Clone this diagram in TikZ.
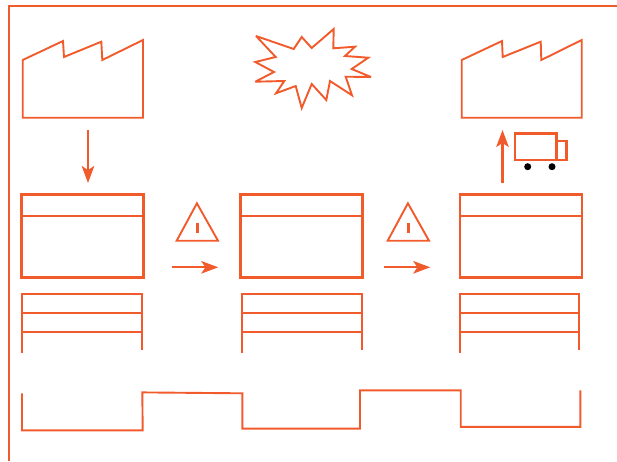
\documentclass[tikz,border=0pt]{standalone}
\usepackage{xcolor}
\usepackage{tikz}
\usetikzlibrary{arrows.meta,positioning}

\definecolor{vsmorange}{HTML}{F15A2B}

\begin{document}
\begin{tikzpicture}[
    x=1pt, y=-1pt,
    outline/.style={draw=vsmorange, line width=1.9pt, line join=miter, miter limit=4},
    process/.style={rectangle, draw=vsmorange, line width=2.7pt, outer sep=0pt, inner sep=0pt, minimum width=122pt, minimum height=83.5pt},
    divider/.style={draw=vsmorange, line width=1.9pt},
    truckbox/.style={draw=vsmorange, line width=2.5pt},
    wheel/.style={circle, fill=black, inner sep=0pt, minimum size=7pt},
    arrow/.style={-{Stealth[length=17pt, width=12.5pt, inset=4pt]}, draw=vsmorange, line width=2.2pt}
]
    \useasboundingbox (0,0) rectangle (617,461);

    % outer frame
    \draw [outline] (9,461) -- (9,6) -- (617,6);

    % supplier and customer
    \draw [outline] (22.7,117.7) -- (22.7,60) -- (63,41) -- (64,57) -- (101.3,41.7) -- (102.3,60) -- (143,40) -- (143,117.7) -- cycle;
    \draw [outline] (461.7,117.7) -- (461.7,60) -- (502,41) -- (502.7,57) -- (540.7,41.7) -- (541.3,60) -- (581.7,40) -- (581.7,117.7) -- cycle;

    % kaizen burst
    \draw [outline] (256,36) -- (293.7,49) -- (301.7,37) -- (311.7,48) -- (333.7,29) -- (333.3,48.3) -- (355,46.7) -- (345,56) -- (368.3,57.7) -- (351.7,69) -- (371,77) -- (345.7,76.7) -- (352,95.3) -- (330,81) -- (326.3,100) -- (311.7,84) -- (301.7,108) -- (295.7,86) -- (276,93.3) -- (284.3,81) -- (255.3,81.7) -- (274,72) -- (255.3,62) -- (275.7,57) -- cycle;

    % process boxes
    \node [process] (n1) at (82.7,236) {};
    \node [process, right=96.6pt of n1] (n2) {};
    \node [process, right=97.7pt of n2] (n3) {};
    \foreach \n in {n1,n2,n3} {
        \draw [divider] ([yshift=-21.3pt]\n.north west) -- ([yshift=-21.3pt]\n.north east);
    }

    % data tables
    \foreach \xa/\xb in {22/142, 241.7/361.7, 459.7/579.3} {
        \draw [outline] (\xa,352.7) -- (\xa,293.7) -- (\xb,293.7) -- (\xb,350.3);
        \draw [divider] (\xa,313.3) -- (\xb,313.3);
        \draw [divider] (\xa,331.7) -- (\xb,331.7);
    }

    % inventory triangles
    \foreach \xa/\xb/\xc in {176.7/196.9/218, 387.7/407.9/429} {
        \draw [outline] (\xa,240.7) -- (\xb,203.3) -- (\xc,240.7) -- cycle;
        \draw [outline, line width=2.4pt] (\xb+0.6,223.3) -- (\xb+0.6,232.7);
    }

    % truck
    \draw [truckbox] (515,133.7) rectangle (556.7,160);
    \draw [truckbox] (556.7,141) rectangle (566.7,160);
    \node [wheel] (w1) at (527.7,166.7) {};
    \node [wheel] (w2) at (552,166.7) {};

    % arrows
    \coordinate (a1) at (88,129.7);
    \coordinate (a2) at (88,183);
    \coordinate (b1) at (171.7,267.3);
    \coordinate (b2) at (218.3,267.3);
    \coordinate (c1) at (383.7,267.3);
    \coordinate (c2) at (430.3,267.3);
    \coordinate (d1) at (502.5,183.3);
    \coordinate (d2) at (502.5,130);
    \draw [arrow] (a1) -- (a2);
    \draw [arrow] (b1) -- (b2);
    \draw [arrow] (c1) -- (c2);
    \draw [arrow] (d1) -- (d2);

    % timeline
    \draw [outline] (22,393.3) -- (22,430.4) -- (142.7,430.4) -- (142.3,392.4) -- (242.4,393.3) -- (242.4,428.6) -- (360,428.6) -- (360,390.4) -- (460.7,390.4) -- (460.7,426.8) -- (580.4,426.8) -- (580.4,390.4);
\end{tikzpicture}
\end{document}
